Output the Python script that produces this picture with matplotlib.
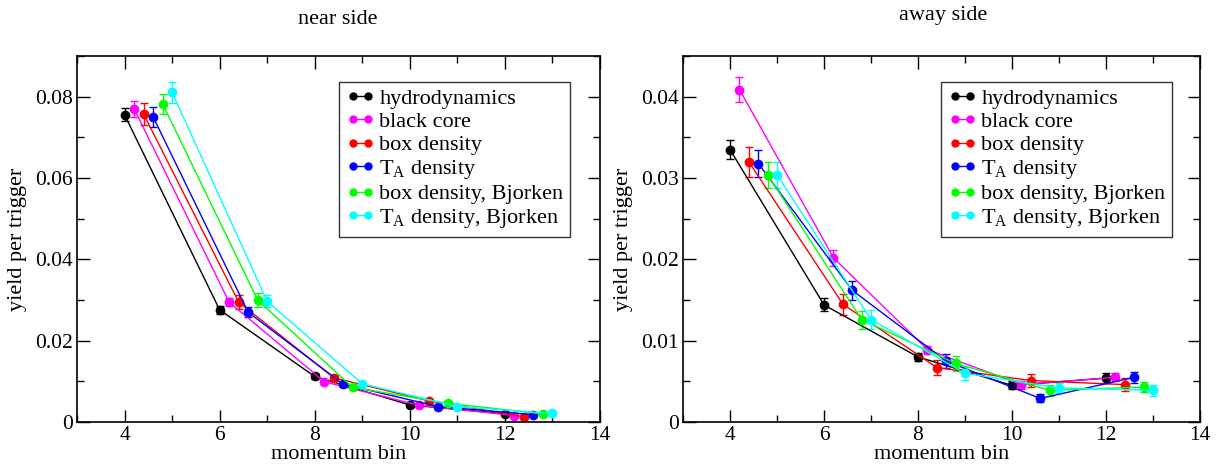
import matplotlib
matplotlib.use("Agg")
import matplotlib.pyplot as plt
from matplotlib.lines import Line2D
from matplotlib.ticker import MultipleLocator, FuncFormatter

plt.rcParams["font.family"] = ["Liberation Serif", "DejaVu Serif"]
plt.rcParams["mathtext.fontset"] = "custom"
plt.rcParams["mathtext.rm"] = "Liberation Serif"
plt.rcParams["mathtext.it"] = "Liberation Serif:italic"

# momentum bins, each model drawn slightly shifted
bins = [4, 6, 8, 10, 12]
shifts = [0.0, 0.2, 0.4, 0.6, 0.8, 1.0]

labels = ["hydrodynamics", "black core", "box density", r"T$_\mathrm{A}$ density",
          "box density, Bjorken", r"T$_\mathrm{A}$ density, Bjorken"]
colors = ["#000000", "#ff00ff", "#ff0000", "#0000ff", "#00ff00", "#00ffff"]

# near side yields
near_hydro = [0.0756, 0.0276, 0.0112, 0.0042, 0.0020]
near_black = [0.0771, 0.0295, 0.0099, 0.0041, 0.0016]
near_box = [0.0758, 0.0295, 0.0109, 0.0052, 0.0013]
near_ta = [0.0751, 0.0270, 0.0093, 0.0038, 0.0018]
near_box_bj = [0.0783, 0.0300, 0.0085, 0.0046, 0.0020]
near_ta_bj = [0.0811, 0.0297, 0.0094, 0.0038, 0.0021]

near_hydro_err = [0.0016, 0.0010, 0.0005, 0.0004, 0.0003]
near_black_err = [0.0020, 0.0010, 0.0005, 0.0004, 0.0003]
near_box_err = [0.0027, 0.0017, 0.0007, 0.0005, 0.0003]
near_ta_err = [0.0024, 0.0012, 0.0006, 0.0004, 0.0003]
near_box_bj_err = [0.0025, 0.0017, 0.0006, 0.0004, 0.0003]
near_ta_bj_err = [0.0025, 0.0015, 0.0006, 0.0004, 0.0003]

# away side yields
away_hydro = [0.0335, 0.0144, 0.0080, 0.0045, 0.0054]
away_black = [0.0409, 0.0202, 0.0089, 0.0046, 0.0055]
away_box = [0.0320, 0.0145, 0.0067, 0.0051, 0.0046]
away_ta = [0.0318, 0.0162, 0.0075, 0.0029, 0.0055]
away_box_bj = [0.0304, 0.0126, 0.0072, 0.0039, 0.0043]
away_ta_bj = [0.0304, 0.0126, 0.0060, 0.0042, 0.0039]

away_hydro_err = [0.0012, 0.0008, 0.0005, 0.0005, 0.0006]
away_black_err = [0.0015, 0.0010, 0.0005, 0.0005, 0.0005]
away_box_err = [0.0018, 0.0013, 0.0009, 0.0008, 0.0008]
away_ta_err = [0.0016, 0.0012, 0.0009, 0.0005, 0.0007]
away_box_bj_err = [0.0016, 0.0011, 0.0009, 0.0007, 0.0006]
away_ta_bj_err = [0.0016, 0.0012, 0.0008, 0.0006, 0.0007]

near = [near_hydro, near_black, near_box, near_ta, near_box_bj, near_ta_bj]
near_err = [near_hydro_err, near_black_err, near_box_err, near_ta_err,
            near_box_bj_err, near_ta_bj_err]
away = [away_hydro, away_black, away_box, away_ta, away_box_bj, away_ta_bj]
away_err = [away_hydro_err, away_black_err, away_box_err, away_ta_err,
            away_box_bj_err, away_ta_bj_err]

fig = plt.figure(figsize=(12.22, 4.66), dpi=100)
ax1 = fig.add_axes([0.063, 0.0944, 0.428, 0.785])
ax2 = fig.add_axes([0.559, 0.0944, 0.423, 0.785])


def fmt(v, _):
    return "0" if abs(v) < 1e-12 else f"{v:g}"


def draw(ax, ys, errs, ymax, ymajor, legend_x):
    for y, e, s, c in zip(ys, errs, shifts, colors):
        xs = [b + s for b in bins]
        ax.errorbar(xs, y, yerr=e, color=c, lw=1.0, marker="o", ms=6,
                    capsize=3, capthick=1.0, elinewidth=1.0)
    ax.set_xlim(3, 14)
    ax.set_ylim(0, ymax)
    ax.xaxis.set_major_locator(MultipleLocator(2))
    ax.xaxis.set_minor_locator(MultipleLocator(1))
    ax.yaxis.set_major_locator(MultipleLocator(ymajor))
    ax.yaxis.set_minor_locator(MultipleLocator(ymajor / 2))
    ax.yaxis.set_major_formatter(FuncFormatter(fmt))
    ax.tick_params(which="both", direction="in", top=True, right=True, labelsize=15.5)
    ax.tick_params(which="major", length=9, width=1, pad=3)
    ax.tick_params(which="minor", length=5, width=1)
    for sp in ax.spines.values():
        sp.set_linewidth(1.2)
    ax.set_xlabel("momentum bin", fontsize=16)
    ax.set_ylabel("yield per trigger", fontsize=16)
    handles = [Line2D([], [], color=c, lw=1.0, marker="o", ms=5) for c in colors]
    leg = ax.legend(handles, labels, loc="upper right", bbox_to_anchor=(legend_x, 0.93),
                    numpoints=2, handlelength=1.3, handletextpad=0.2,
                    labelspacing=0.12, borderpad=0.3, fontsize=16,
                    frameon=True, fancybox=False, borderaxespad=0)
    leg.get_frame().set_edgecolor("black")
    leg.get_frame().set_linewidth(1.0)


draw(ax1, near, near_err, 0.09, 0.02, 0.943)
draw(ax2, away, away_err, 0.045, 0.01, 0.946)

ax1.xaxis.set_label_coords(0.5, -0.062)
ax2.xaxis.set_label_coords(0.5, -0.062)
ax1.yaxis.set_label_coords(-0.096, 0.5)
ax2.yaxis.set_label_coords(-0.097, 0.5)

fig.text(0.2766, 0.958, "near side", ha="center", va="center", fontsize=16)
fig.text(0.7717, 0.967, "away side", ha="center", va="center", fontsize=16)

fig.savefig("out.png", dpi=100)
